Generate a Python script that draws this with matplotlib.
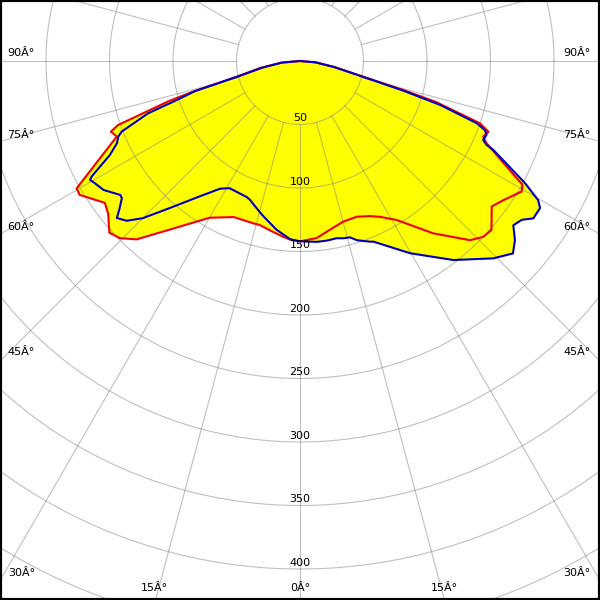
import numpy as np
import matplotlib
matplotlib.use("Agg")
import matplotlib.pyplot as plt

# intensity (cd) vs gamma angle (deg)
# red curve: C0 (right half) / C180 (left half)
g_c180 = [0, 3, 5.5, 10, 13.7, 16, 23, 30, 37, 42.5, 45.5, 48, 51.5, 54, 58.7, 60.3,
          67.6, 69.5, 70.6, 73, 74, 76, 80, 85, 90]
i_c180 = [142, 141, 139, 135.5, 133, 133, 133.5, 142.5, 165, 190.5, 199, 202, 193, 190, 203, 202.5,
          156, 159, 152, 108, 88, 52, 32, 15, 0]
g_c0 = [0, 5.4, 10, 15, 20, 24.3, 27.2, 31.3, 37.7, 43.5, 46.2, 48.6, 52.8, 55.6, 59.5, 60.9,
        62.9, 66.2, 67.6, 69.4, 70.9, 73.2, 74.3, 76, 80, 85, 90]
i_c0 = [142, 140, 135, 131, 130.5, 134, 138, 146.5, 171.5, 194.5, 200, 201, 189.5, 194, 202.5, 200.5,
        183, 160.5, 156, 158.5, 150, 112, 85, 52, 28, 13, 0]

# blue curve: C90 (right half) / C270 (left half)
g_c270 = [0, 3.2, 8, 13, 15, 20, 21.5, 29, 32, 36.5, 41.5, 45, 47.3, 49.4, 50.5, 52.4, 53.3,
          56.7, 59.2, 60.5, 61, 63.7, 65.8, 67.4, 68.4, 71, 72.4, 74, 76, 80, 85, 90]
i_c270 = [142, 140.5, 134, 126, 123, 116, 115, 114.5, 118.5, 132.5, 154.5, 175, 185.5, 190, 184.5, 177, 176.5,
          185, 188, 190, 187.5, 167, 158, 155, 151, 126.5, 102, 86, 50, 30, 14, 0]
g_c90 = [0, 5.3, 8.5, 11.7, 13.7, 15.8, 17.6, 21.2, 22.1, 29.8, 37.6, 44.4, 47.9, 50.2, 52.4, 54.4,
         56, 58.5, 59.7, 61.5, 65.3, 65.8, 66.7, 68.4, 69.5, 70.6, 72.6, 74, 76, 80, 85, 90]
i_c90 = [142, 143, 143, 142.5, 143.7, 144.3, 148, 152.6, 153.5, 174.4, 197.8, 217.5, 226, 220.3, 212, 214.8,
         221.6, 221.7, 217.2, 201.7, 167.6, 161, 157, 158, 155.5, 147.5, 115.6, 84, 50, 27, 12, 0]

rings = [50, 100, 150, 200, 250, 300, 350, 400, 450, 500]
ring_labels = [50, 100, 150, 200, 250, 300, 350, 400]
spokes = np.arange(0, 360, 15)


def to_xy(gam, inten, side):
    g = np.radians(gam)
    r = np.array(inten, dtype=float)
    return side * r * np.sin(g), -r * np.cos(g)


def curve(g_left, i_left, g_right, i_right):
    xl, yl = to_xy(g_left, i_left, -1)
    xr, yr = to_xy(g_right, i_right, 1)
    return np.concatenate([xl[::-1], xr]), np.concatenate([yl[::-1], yr])


fig = plt.figure(figsize=(6, 6), dpi=100)
ax = fig.add_axes([0, 0, 1, 1])
scale = 1.27  # px per cd
ax.set_xlim(-300 / scale, 300 / scale)
ax.set_ylim(-539 / scale, 61 / scale)
ax.set_xticks([])
ax.set_yticks([])
for s in ax.spines.values():
    s.set_linewidth(3)
    s.set_color("black")

red_x, red_y = curve(g_c180, i_c180, g_c0, i_c0)
blue_x, blue_y = curve(g_c270, i_c270, g_c90, i_c90)

ax.fill(red_x, red_y, color="#ffff00", lw=0, zorder=1)
ax.fill(blue_x, blue_y, color="#ffff00", lw=0, zorder=1)

# grid
t = np.linspace(0, 2 * np.pi, 721)
for r in rings:
    ax.plot(r * np.cos(t), r * np.sin(t), color="#808080", alpha=0.5, lw=0.8, zorder=2)
for a in spokes:
    ar = np.radians(a)
    ax.plot([50 * np.sin(ar), 800 * np.sin(ar)], [-50 * np.cos(ar), -800 * np.cos(ar)],
            color="#808080", alpha=0.5, lw=0.8, zorder=2)

ax.plot(red_x, red_y, color="#f00000", lw=1.5, zorder=3)
ax.plot(blue_x, blue_y, color="#0000c0", lw=1.5, zorder=4)

for r in ring_labels:
    ax.text(0, -r + 5, str(r), ha="center", va="center", fontsize=8, zorder=5)

# angle labels (pixel positions of the reference)
angle_text = [("90Â°", 21, 53), ("75Â°", 21, 135), ("60Â°", 21, 227), ("45Â°", 21, 352),
              ("30Â°", 22, 573), ("15Â°", 154, 588), ("0Â°", 300, 588), ("15Â°", 444, 588),
              ("30Â°", 577, 573), ("45Â°", 577, 352), ("60Â°", 577, 227), ("75Â°", 577, 135),
              ("90Â°", 577, 53)]
for s, px, py in angle_text:
    fig.text(px / 600, 1 - py / 600, s, ha="center", va="center", fontsize=8, zorder=5)

fig.savefig("out.png", dpi=100)
